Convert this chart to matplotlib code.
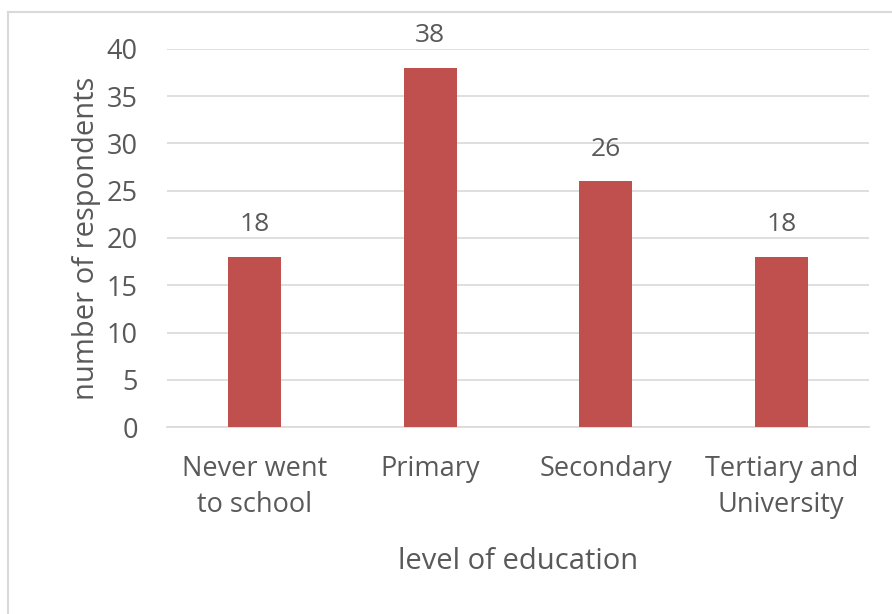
import matplotlib.pyplot as plt
from matplotlib.lines import Line2D

# Respondents by level of education
categories = ['Never went\nto school', 'Primary', 'Secondary', 'Tertiary and\nUniversity']
counts = [18, 38, 26, 18]
yticks = [0, 5, 10, 15, 20, 25, 30, 35, 40]

bar_color = '#C0504D'
text_color = '#595959'
grid_color = '#D9D9D9'

plt.rcParams['font.family'] = ['Open Sans', 'DejaVu Sans']

fig = plt.figure(figsize=(8.92, 6.14), dpi=100)
ax = fig.add_axes([167 / 892, 1 - 427 / 614, (869 - 167) / 892, (427 - 49) / 614])

x = range(len(categories))
bars = ax.bar(x, counts, width=0.30, color=bar_color, zorder=3)

# value labels above each bar
for xi, v in zip(x, counts):
    ax.annotate(str(v), (xi, v), xytext=(0, 14), textcoords='offset points',
                ha='center', va='bottom', fontsize=19, color=text_color)

ax.set_ylim(0, 40)
ax.set_xlim(-0.5, len(categories) - 0.5)
ax.set_yticks(yticks)
ax.set_xticks(list(x))
ax.set_xticklabels(categories, fontsize=19.5, color=text_color, linespacing=1.4)
ax.tick_params(axis='y', labelsize=19.5, labelcolor=text_color, length=0, pad=21)
ax.tick_params(axis='x', length=0, pad=20)

ax.yaxis.grid(True, color=grid_color, linewidth=1.2, zorder=0)
for side in ['top', 'right', 'left']:
    ax.spines[side].set_visible(False)
ax.spines['bottom'].set_color(grid_color)
ax.spines['bottom'].set_linewidth(1.2)

ax.set_ylabel('number of respondents', fontsize=21, color=text_color, labelpad=4)
ax.set_xlabel('level of education', fontsize=21, color=text_color, labelpad=20)

# chart frame
fig.add_artist(Line2D([8 / 892, 8 / 892], [0, 1 - 12 / 614], transform=fig.transFigure,
                      color='#D9D9D9', linewidth=1.5))
fig.add_artist(Line2D([8 / 892, 1], [1 - 12 / 614, 1 - 12 / 614], transform=fig.transFigure,
                      color='#D9D9D9', linewidth=1.5))

plt.savefig('out.png', dpi=100)
